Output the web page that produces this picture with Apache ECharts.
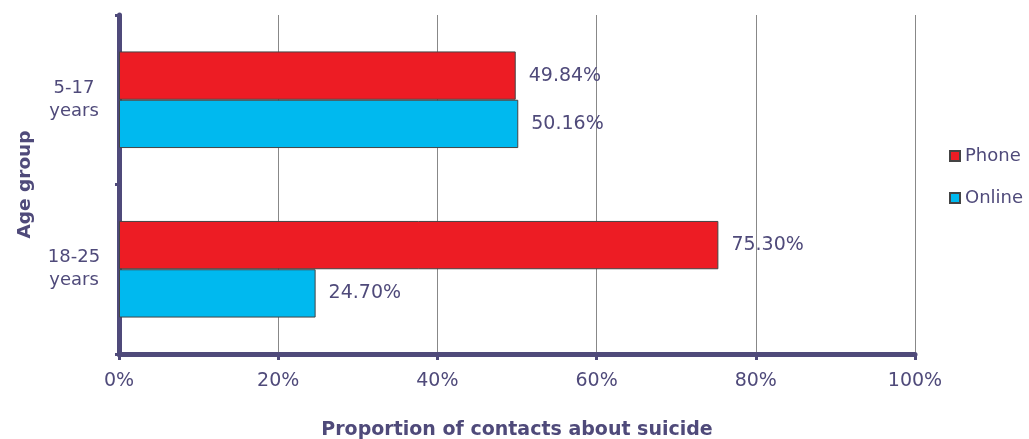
<!DOCTYPE html>
<html><head><meta charset="utf-8">
<script src="https://cdn.jsdelivr.net/npm/echarts@6/dist/echarts.min.js"></script>
<style>html,body{margin:0;padding:0;background:#fff}#c{width:1029px;height:439px}</style>
</head><body><div id="c"></div>
<script>
const categories = ['5-17\nyears', '18-25\nyears'];
const phone = [49.84, 75.30];
const online = [50.16, 24.70];
const xTicks = [0, 20, 40, 60, 80, 100];

const txt = '#4f4a7a';
const font = '"DejaVu Sans", sans-serif';
const chart = echarts.init(document.getElementById('c'));
const lbl = {show: true, position: 'right', distance: 13, color: txt, fontSize: 19, fontFamily: font,
  formatter: p => p.value.toFixed(2) + '%'};
chart.setOption({
  animation: false,
  grid: {left: 119, right: 114, top: 15, bottom: 85, containLabel: false, outerBoundsMode: 'none'},
  legend: {orient: 'vertical', left: 944, top: 142, itemGap: 24, itemWidth: 10, itemHeight: 10,
    icon: 'rect', textStyle: {color: txt, fontSize: 18, fontFamily: font},
    data: ['Phone', 'Online']},
  xAxis: {type: 'value', min: 0, max: 100, interval: 20,
    axisLabel: {formatter: v => xTicks.includes(v) ? v + '%' : '', color: txt, fontSize: 19, fontFamily: font, margin: 18},
    axisLine: {show: true, lineStyle: {color: txt, width: 5}},
    axisTick: {show: true, length: 6, lineStyle: {color: txt, width: 3}},
    splitLine: {show: true, lineStyle: {color: '#888', width: 1}},
    name: 'Proportion of contacts about suicide', nameLocation: 'middle', nameGap: 67,
    nameTextStyle: {color: txt, fontSize: 19, fontWeight: 'bold', fontFamily: font}},
  yAxis: {type: 'category', data: categories, inverse: true,
    axisLabel: {color: txt, fontSize: 18, fontFamily: font, margin: 45, align: 'center', lineHeight: 23},
    axisLine: {show: true, lineStyle: {color: txt, width: 5}},
    axisTick: {show: true, length: 4, lineStyle: {color: txt, width: 3}},
    name: 'Age group', nameLocation: 'middle', nameGap: 84, nameRotate: 90,
    nameTextStyle: {color: txt, fontSize: 18.5, fontWeight: 'bold', fontFamily: font}},
  series: [
    {name: 'Phone', type: 'bar', data: phone, barCategoryGap: '43%', barGap: '0%',
      itemStyle: {color: '#ed1c24', borderColor: '#444', borderWidth: 1}, label: lbl},
    {name: 'Online', type: 'bar', data: online,
      itemStyle: {color: '#00b9ef', borderColor: '#444', borderWidth: 1}, label: lbl}
  ]
});
</script></body></html>
